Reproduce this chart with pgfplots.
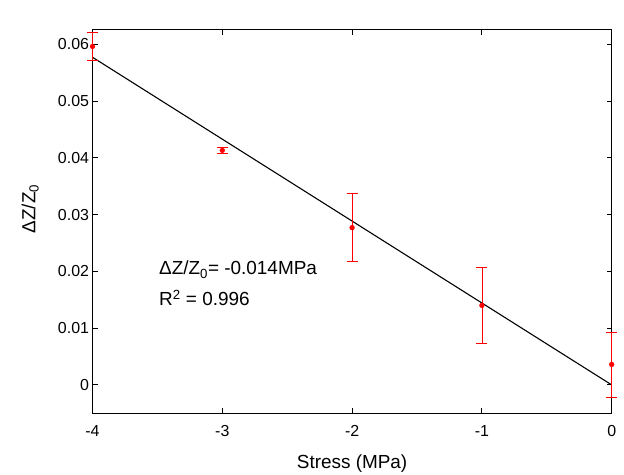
\documentclass[border=0pt]{standalone}
\usepackage{pgfplots}
\pgfplotsset{compat=1.18}
\usepackage{fontspec}
\setmainfont{Liberation Sans}
\begin{document}
\begin{tikzpicture}
\useasboundingbox (0,0) rectangle (624bp,475bp);
\begin{axis}[
  at={(92.5bp,61.7bp)}, anchor=south west,
  scale only axis,
  width=519.2bp, height=383.3bp,
  xmin=-4, xmax=0,
  ymin=-0.005, ymax=0.0625,
  scaled y ticks=false,
  xtick={-4,-3,-2,-1,0},
  xticklabels={-4,-3,-2,-1,0},
  ytick={0,0.01,0.02,0.03,0.04,0.05,0.06},
  yticklabels={0,0.01,0.02,0.03,0.04,0.05,0.06},
  tick align=inside,
  major tick length=5bp,
  axis line style={line width=1pt},
  tick style={line width=0.9pt, black},
  ticklabel style={font=\fontsize{16}{18}\selectfont},
  xticklabel style={yshift=-9bp},
  label style={font=\fontsize{19}{21}\selectfont},
  xlabel={Stress (MPa)},
  ylabel={ΔZ/Z\textsubscript{0}},
  xlabel style={at={(axis description cs:0.5,-0.1453)}, anchor=base},
  ylabel style={at={(axis description cs:-0.12,0.533)}, anchor=center},
  /pgf/number format/assume math mode=true,
  clip=false,
]
\addplot[black, line width=1.1pt] coordinates {(-4,0.0577) (0,0.0000)};
\addplot[red, only marks, mark=*, mark size=2.4bp,
  error bars/.cd, y dir=both, y explicit,
  error bar style={draw=red, line width=0.6pt},
  error mark options={draw=red, rotate=90, mark size=5.5bp, line width=0.6pt}]
  coordinates {
    (-4,0.0596) +- (0,0.0025)
    (-3,0.0413) +- (0,0.0006)
    (-2,0.0277) +- (0,0.0060)
    (-1,0.0140) +- (0,0.0067)
    (0,0.0036) +- (0,0.0057)
  };
\node[anchor=base west, inner sep=0pt, font=\fontsize{19}{21}\selectfont] at (axis cs:-3.488,0.01938) {ΔZ/Z\textsubscript{0}= -0.014MPa};
\node[anchor=base west, inner sep=0pt, font=\fontsize{19}{21}\selectfont] at (axis cs:-3.488,0.01394) {R\textsuperscript{2} = 0.996};
\end{axis}
\end{tikzpicture}
\end{document}
